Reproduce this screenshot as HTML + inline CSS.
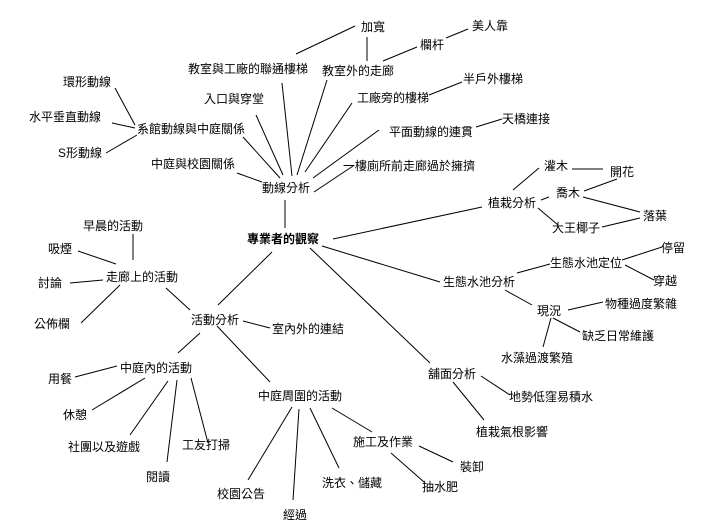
<!DOCTYPE html>
<html><head><meta charset="utf-8"><style>
html,body{margin:0;padding:0;background:#fff;}
svg{display:block;}
text{font-family:"Liberation Sans","Noto Sans CJK TC",sans-serif;font-size:12px;fill:#000;dominant-baseline:central;}
line{stroke:#000;stroke-width:1;}
</style></head><body>
<svg width="712" height="531" viewBox="0 0 712 531" xmlns="http://www.w3.org/2000/svg">
<g>
<line x1="296" y1="54" x2="355" y2="26"/>
<line x1="367" y1="37" x2="367" y2="61"/>
<line x1="383" y1="61" x2="417" y2="47"/>
<line x1="446" y1="38" x2="468" y2="29"/>
<line x1="429" y1="95" x2="462" y2="82"/>
<line x1="476" y1="127" x2="502" y2="119"/>
<line x1="572" y1="169" x2="603" y2="169"/>
<line x1="584" y1="191" x2="617" y2="179"/>
<line x1="583" y1="197" x2="640" y2="212"/>
<line x1="602" y1="227" x2="640" y2="218"/>
<line x1="513" y1="190" x2="539" y2="168"/>
<line x1="541" y1="200" x2="549" y2="197"/>
<line x1="538" y1="208" x2="558" y2="225"/>
<line x1="333" y1="239" x2="482" y2="207"/>
<line x1="322" y1="246" x2="440" y2="282"/>
<line x1="310" y1="248" x2="430" y2="363"/>
<line x1="272" y1="252" x2="218" y2="305"/>
<line x1="285" y1="200" x2="285" y2="228"/>
<line x1="282" y1="83" x2="292" y2="176"/>
<line x1="327" y1="80" x2="297" y2="175"/>
<line x1="352" y1="103" x2="305" y2="172"/>
<line x1="379" y1="130" x2="313" y2="178"/>
<line x1="353" y1="166" x2="314" y2="192"/>
<line x1="243" y1="137" x2="280" y2="178"/>
<line x1="256" y1="115" x2="283" y2="175"/>
<line x1="237" y1="173" x2="262" y2="182"/>
<line x1="115" y1="88" x2="135" y2="125"/>
<line x1="112" y1="123" x2="135" y2="128"/>
<line x1="106" y1="153" x2="137" y2="135"/>
<line x1="133" y1="234" x2="133" y2="260"/>
<line x1="78" y1="251" x2="116" y2="264"/>
<line x1="70" y1="283" x2="103" y2="280"/>
<line x1="81" y1="323" x2="120" y2="285"/>
<line x1="166" y1="288" x2="190" y2="310"/>
<line x1="243" y1="321" x2="270" y2="328"/>
<line x1="200" y1="333" x2="178" y2="353"/>
<line x1="217" y1="326" x2="270" y2="382"/>
<line x1="75" y1="377" x2="117" y2="366"/>
<line x1="92" y1="410" x2="145" y2="378"/>
<line x1="130" y1="435" x2="168" y2="381"/>
<line x1="167" y1="462" x2="177" y2="380"/>
<line x1="208" y1="443" x2="191" y2="378"/>
<line x1="248" y1="480" x2="292" y2="407"/>
<line x1="293" y1="500" x2="299" y2="409"/>
<line x1="310" y1="408" x2="339" y2="468"/>
<line x1="332" y1="408" x2="372" y2="432"/>
<line x1="419" y1="446" x2="453" y2="462"/>
<line x1="391" y1="453" x2="424" y2="482"/>
<line x1="481" y1="376" x2="510" y2="395"/>
<line x1="453" y1="382" x2="484" y2="420"/>
<line x1="517" y1="273" x2="550" y2="264"/>
<line x1="505" y1="290" x2="532" y2="305"/>
<line x1="622" y1="260" x2="662" y2="247"/>
<line x1="625" y1="265" x2="654" y2="280"/>
<line x1="568" y1="310" x2="603" y2="302"/>
<line x1="553" y1="318" x2="580" y2="332"/>
<line x1="551" y1="318" x2="543" y2="347"/>
</g>
<g>
<text x="361" y="27">加寬</text>
<text x="472" y="26">美人靠</text>
<text x="420" y="45">欄杆</text>
<text x="188" y="69">教室與工廠的聯通樓梯</text>
<text x="322" y="71">教室外的走廊</text>
<text x="463" y="79">半戶外樓梯</text>
<text x="204" y="99">入口與穿堂</text>
<text x="357" y="98">工廠旁的樓梯</text>
<text x="63" y="82">環形動線</text>
<text x="29" y="117">水平垂直動線</text>
<text x="137" y="129">系館動線與中庭關係</text>
<text x="502" y="119">天橋連接</text>
<text x="389" y="132">平面動線的連貫</text>
<text x="58" y="153">S形動線</text>
<text x="151" y="164">中庭與校園關係</text>
<text x="343" y="166">一樓廁所前走廊過於擁擠</text>
<text x="544" y="166">灌木</text>
<text x="610" y="172">開花</text>
<text x="556" y="193">喬木</text>
<text x="262" y="188">動線分析</text>
<text x="488" y="203">植栽分析</text>
<text x="643" y="216">落葉</text>
<text x="552" y="228">大王椰子</text>
<text x="83" y="226">早晨的活動</text>
<text x="247" y="239" font-weight="bold">專業者的觀察</text>
<text x="661" y="248">停留</text>
<text x="48" y="249">吸煙</text>
<text x="550" y="263">生態水池定位</text>
<text x="106" y="277">走廊上的活動</text>
<text x="443" y="282">生態水池分析</text>
<text x="653" y="281">穿越</text>
<text x="38" y="283">討論</text>
<text x="605" y="304">物種過度繁雜</text>
<text x="537" y="311">現況</text>
<text x="34" y="324">公佈欄</text>
<text x="191" y="320">活動分析</text>
<text x="272" y="329">室內外的連結</text>
<text x="582" y="336">缺乏日常維護</text>
<text x="501" y="358">水藻過渡繁殖</text>
<text x="120" y="368">中庭內的活動</text>
<text x="428" y="374">舖面分析</text>
<text x="48" y="379">用餐</text>
<text x="258" y="396">中庭周圍的活動</text>
<text x="509" y="397">地勢低窪易積水</text>
<text x="63" y="415">休憩</text>
<text x="353" y="442">施工及作業</text>
<text x="476" y="432">植栽氣根影響</text>
<text x="68" y="447">社團以及遊戲</text>
<text x="182" y="445">工友打掃</text>
<text x="460" y="467">裝卸</text>
<text x="146" y="477">閱讀</text>
<text x="322" y="483">洗衣、儲藏</text>
<text x="422" y="487">抽水肥</text>
<text x="217" y="494">校園公告</text>
<text x="283" y="515">經過</text>
</g>
</svg>
</body></html>
